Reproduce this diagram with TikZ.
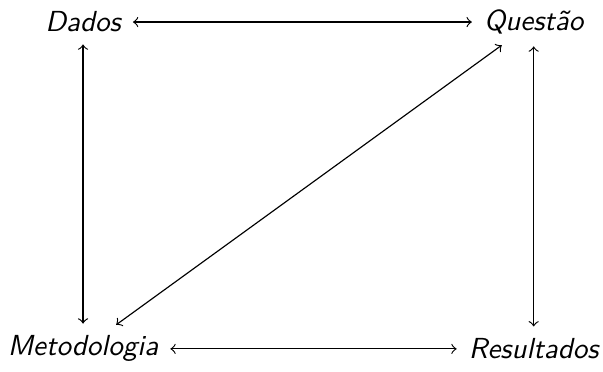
\documentclass[tikz,border=0pt]{standalone}
\usepackage{tikz}
\tikzset{
  termo/.style={font=\sffamily\itshape, inner sep=3pt},
  ligacao/.style={<->, thin, shorten >=1pt, shorten <=1pt}
}
\begin{document}
\begin{tikzpicture}
  \useasboundingbox (-1.006,0.267) rectangle (6.30,-4.23);
  \node[termo] (dados) at (0,0) {Dados};
  \node[termo] (questao) at (5.46,0) {Questão};
  \node[termo] (metodo) at (0,-3.96) {Metodologia};
  \node[termo] (result) at (5.46,-3.96) {Resultados};
  \draw[ligacao] (dados) -- (questao);
  \draw[ligacao] (dados) -- (metodo);
  \draw[ligacao] (questao) -- (result);
  \draw[ligacao] (metodo) -- (result);
  \draw[ligacao] (metodo) -- (questao);
\end{tikzpicture}
\end{document}
